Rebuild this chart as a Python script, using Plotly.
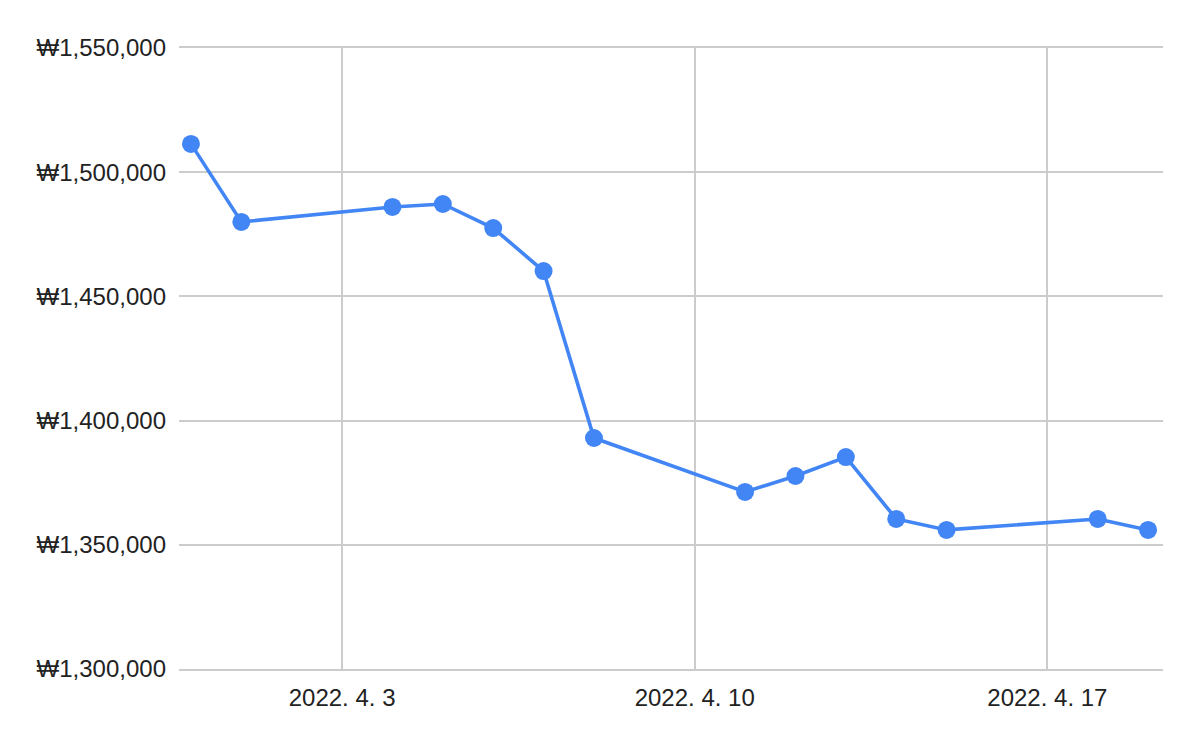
import plotly.graph_objects as go
import pandas as pd

dates = ["2022-03-31", "2022-04-01", "2022-04-04", "2022-04-05", "2022-04-06",
         "2022-04-07", "2022-04-08", "2022-04-11", "2022-04-12", "2022-04-13",
         "2022-04-14", "2022-04-15", "2022-04-18", "2022-04-19"]
values = [1511400, 1480000, 1486000, 1487200, 1477500, 1460200, 1393000,
          1371300, 1377700, 1385300, 1360400, 1356000, 1360400, 1356000]
tick_dates = ["2022-04-03", "2022-04-10", "2022-04-17"]
tick_labels = ["2022. 4. 3", "2022. 4. 10", "2022. 4. 17"]

x = pd.to_datetime(dates)

fig = go.Figure()
fig.add_trace(go.Scatter(
    x=x, y=values, mode="lines+markers",
    line=dict(color="#4285F4", width=3.6),
    marker=dict(color="#4285F4", size=18),
    showlegend=False,
    cliponaxis=False,
))

x0 = pd.Timestamp("2022-03-31") - pd.Timedelta(hours=5.7)
x1 = pd.Timestamp("2022-04-19") + pd.Timedelta(hours=7.1)

fig.update_layout(
    width=1200, height=742,
    margin=dict(l=171, r=45, t=40, b=81),
    paper_bgcolor="white", plot_bgcolor="white",
    font=dict(family="Arial, Liberation Sans, sans-serif", size=24, color="#222222"),
    xaxis=dict(
        type="date", range=[x0, x1],
        tickvals=pd.to_datetime(tick_dates), ticktext=tick_labels,
        tickfont=dict(size=24),
        showgrid=True, gridcolor="#cccccc", gridwidth=1.5,
        showline=True, linecolor="#cccccc", linewidth=1.5, mirror=True,
        zeroline=False, ticks="", ticklabelstandoff=6,
    ),
    yaxis=dict(
        range=[1300000, 1550000], dtick=50000, tick0=1300000,
        tickprefix="₩", tickformat=",d",
        tickfont=dict(size=24),
        showgrid=True, gridcolor="#cccccc", gridwidth=1.5,
        showline=False, zeroline=False, ticks="", ticklabelstandoff=12,
    ),
)

fig.write_html("out.html")
